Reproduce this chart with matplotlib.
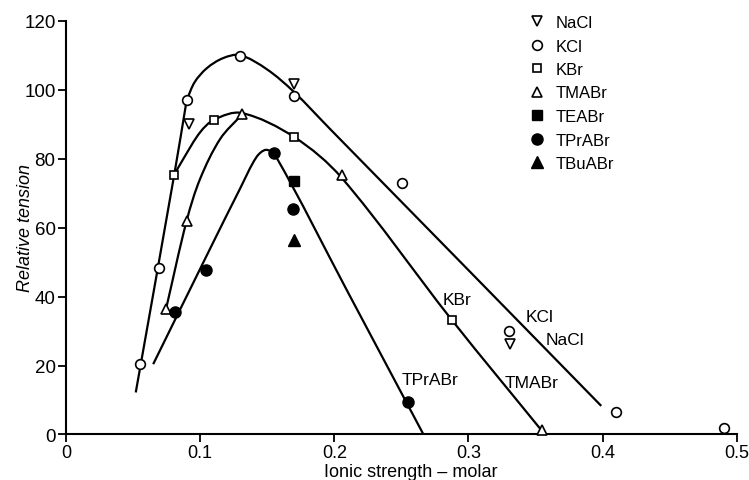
import numpy as np
import matplotlib
matplotlib.use('Agg')
import matplotlib.pyplot as plt
from matplotlib.path import Path
from matplotlib.patches import PathPatch
from matplotlib.lines import Line2D

plt.rcParams['font.family'] = ['Liberation Sans', 'DejaVu Sans']

# measured points (ionic strength, relative tension)
nacl_x = [0.0917, 0.1702, 0.331]
nacl_y = [90.1, 101.7, 26.4]
kcl_x = [0.0552, 0.0696, 0.090, 0.1297, 0.1697, 0.2503, 0.3305, 0.410, 0.4908]
kcl_y = [20.4, 48.3, 97.1, 109.8, 98.3, 73.0, 29.9, 6.4, 1.9]
kbr_x = [0.0807, 0.1106, 0.1702, 0.2875]
kbr_y = [75.4, 91.4, 86.3, 33.3]
tmabr_x = [0.0745, 0.090, 0.131, 0.2055, 0.3552]
tmabr_y = [36.3, 62.1, 93.0, 75.4, 1.2]
teabr_x = [0.170]
teabr_y = [73.5]
tprabr_x = [0.0813, 0.1041, 0.155, 0.1694, 0.2547]
tprabr_y = [35.6, 47.6, 81.7, 65.4, 9.5]
tbuabr_x = [0.170]
tbuabr_y = [56.3]

# hand-drawn curves, points (a repeated point = corner)
curve_kcl = [(0.052, 12.2), (0.0807, 75.4), (0.090, 97.1), (0.090, 97.1),
             (0.096, 102.3), (0.105, 106.3), (0.117, 109.2), (0.1297, 110.1),
             (0.1497, 106.0), (0.1697, 99.5), (0.197, 88.6), (0.30, 47.7),
             (0.399, 8.3)]
curve_kbr = [(0.0807, 75.4), (0.0875, 80.0), (0.100, 87.7),
             (0.1106, 91.4), (0.131, 93.3), (0.1702, 86.3), (0.2055, 74.5),
             (0.2875, 33.3), (0.357, 0.0)]
curve_tma = [(0.0745, 36.3), (0.090, 62.1), (0.100, 74.2),
             (0.115, 85.8), (0.131, 92.8)]
curve_tpr = [(0.065, 20.4), (0.1074, 53.9), (0.1297, 71.3),
             (0.142, 80.5), (0.149, 82.6), (0.156, 81.0), (0.21, 41.4),
             (0.2665, 0.0)]

PX = np.array([1341.4, 3.446])  # rough data -> pixel scale, for chord lengths


def smooth_patch(pts):
    p = np.array(pts, dtype=float)
    n = len(p)
    d = np.hypot(*((p[1:] - p[:-1]) * PX).T)
    m = np.zeros_like(p)
    for i in range(n):
        a = p[max(i - 1, 0)]
        b = p[min(i + 1, n - 1)]
        da = d[i - 1] if i > 0 else 0.0
        db = d[i] if i < n - 1 else 0.0
        if da + db > 0:
            m[i] = (b - a) / (da + db)
    verts = [p[0]]
    codes = [Path.MOVETO]
    for i in range(n - 1):
        verts += [p[i] + m[i] * d[i] / 3, p[i + 1] - m[i + 1] * d[i] / 3, p[i + 1]]
        codes += [Path.CURVE4] * 3
    return PathPatch(Path(verts, codes), facecolor='none', edgecolor='black',
                     lw=1.6, clip_on=False, capstyle='butt')


fig = plt.figure(figsize=(7.49, 4.81), dpi=100)
ax = fig.add_axes([0.0881, 0.0946, 0.8955, 0.8597])

for c in (curve_kcl, curve_kbr, curve_tma, curve_tpr):
    ax.add_patch(smooth_patch(c))

open_kw = dict(ls='none', mfc='white', mec='black', mew=1.2, clip_on=False, zorder=3)
fill_kw = dict(ls='none', mfc='black', mec='black', clip_on=False, zorder=3)
ax.plot(nacl_x, nacl_y, marker='v', ms=7.5, **open_kw)
ax.plot(kcl_x, kcl_y, marker='o', ms=7, **open_kw)
ax.plot(kbr_x, kbr_y, marker='s', ms=6, **open_kw)
ax.plot(tmabr_x, tmabr_y, marker='^', ms=7.5, **open_kw)
ax.plot(teabr_x, teabr_y, marker='s', ms=6.5, **fill_kw)
ax.plot(tprabr_x, tprabr_y, marker='o', ms=8, **fill_kw)
ax.plot(tbuabr_x, tbuabr_y, marker='^', ms=8, **fill_kw)

# curve labels
ax.text(0.2913, 39.3, 'KBr', ha='center', va='center', fontsize=12.5)
ax.text(0.3534, 34.1, 'KCl', ha='center', va='center', fontsize=12.5)
ax.text(0.372, 27.7, 'NaCl', ha='center', va='center', fontsize=12.5)
ax.text(0.3472, 15.2, 'TMABr', ha='center', va='center', fontsize=12.5)
ax.text(0.2714, 16.1, 'TPrABr', ha='center', va='center', fontsize=12.5)

handles = [
    Line2D([], [], marker='v', ms=7.5, **open_kw),
    Line2D([], [], marker='o', ms=7, **open_kw),
    Line2D([], [], marker='s', ms=6, **open_kw),
    Line2D([], [], marker='^', ms=7.5, **open_kw),
    Line2D([], [], marker='s', ms=6.5, **fill_kw),
    Line2D([], [], marker='o', ms=8, **fill_kw),
    Line2D([], [], marker='^', ms=8, **fill_kw),
]
labels = ['NaCl', 'KCl', 'KBr', 'TMABr', 'TEABr', 'TPrABr', 'TBuABr']
ax.legend(handles, labels, loc='upper left', bbox_to_anchor=(529 / 749, 1 - 16 / 481),
          bbox_transform=fig.transFigure, frameon=False, fontsize=12,
          handlelength=1.0, handletextpad=0.6, labelspacing=0.51, borderpad=0,
          borderaxespad=0)

ax.set_xlim(0, 0.5)
ax.set_ylim(0, 120)
ax.set_xticks([0, 0.1, 0.2, 0.3, 0.4, 0.5])
ax.set_xticklabels(['0', '0.1', '0.2', '0.3', '0.4', '0.5'])
ax.set_yticks([0, 20, 40, 60, 80, 100, 120])
for s in ('top', 'right'):
    ax.spines[s].set_visible(False)
for s in ('left', 'bottom'):
    ax.spines[s].set_linewidth(1.5)
ax.tick_params(direction='out', length=6, width=1.3, labelsize=13.5, pad=1.5)
ax.tick_params(axis='x', labelsize=13, pad=0.5)

fig.text(411 / 749, 1 - 473 / 481, 'Ionic strength \u2013 molar', fontsize=13,
         ha='center', va='center')
fig.text(26 / 749, 1 - 228 / 481, 'Relative tension', fontsize=13, style='italic',
         rotation=90, ha='center', va='center')

fig.savefig('out.png', dpi=100)
